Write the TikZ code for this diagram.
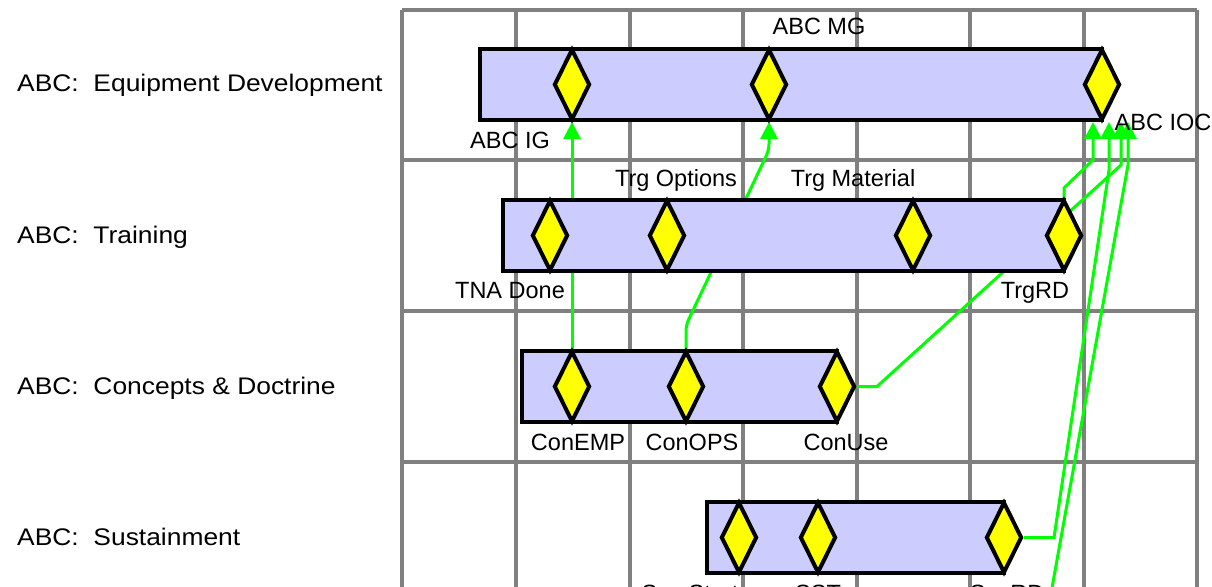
\documentclass[tikz,border=0pt]{standalone}
\usepackage{fontspec}
\setmainfont{Liberation Sans}
\newfontfamily\rowfont[FakeStretch=1.1]{Liberation Sans}
\usetikzlibrary{shapes.geometric,arrows.meta}
\definecolor{gridgray}{HTML}{808080}
\definecolor{barfill}{HTML}{CCCCFF}
\definecolor{msyellow}{HTML}{FFFF00}
\definecolor{lnkgreen}{HTML}{00FF00}
\pgfdeclarelayer{gridl}
\pgfdeclarelayer{links}
\pgfsetlayers{gridl,links,main}
\begin{document}
\begin{tikzpicture}[x=1pt,y=-1pt,
  gridline/.style={draw=gridgray,line width=3.5pt},
  bar/.style={draw=black,line width=4pt,fill=barfill,rectangle,anchor=west,
    minimum height=71pt,inner sep=0pt,outer sep=0pt},
  milestone/.style={draw=black,line width=4pt,fill=msyellow,diamond,inner sep=0pt,
    minimum width=36pt,minimum height=71pt},
  lbl/.style={font=\fontsize{23.5}{28}\selectfont,inner sep=0pt,anchor=base},
  rowlbl/.style={font=\rowfont\fontsize{24}{28}\selectfont,inner sep=0pt,anchor=base west},
  link/.style={draw=lnkgreen,line width=3pt},
  linkarrow/.style={link,-{Triangle[width=17pt,length=17pt]}}]
\useasboundingbox (0,0) rectangle (1212,586);
\clip (0,0) rectangle (1212,586);
% grid
\begin{pgfonlayer}{gridl}
\foreach \gx in {402,516,630,743,857,970,1084,1197}
  \draw[gridline] (\gx,10) -- (\gx,600);
\foreach \gy in {10,160,311,462}
  \draw[gridline] (402,\gy) -- (1197,\gy);
\end{pgfonlayer}
% row labels
\node[rowlbl] (r1) at (17,92) {ABC:~~Equipment Development};
\node[rowlbl] (r2) at (17,243) {ABC:~~Training};
\node[rowlbl] (r3) at (17,394) {ABC:~~Concepts \& Doctrine};
\node[rowlbl] (r4) at (17,545) {ABC:~~Sustainment};
% bars
\node[bar,minimum width=622pt] (b1) at (480,84.5) {};
\node[bar,minimum width=561pt] (b2) at (503,235.5) {};
\node[bar,minimum width=315pt] (b3) at (522,386.5) {};
\node[bar,minimum width=297pt] (b4) at (707,537.5) {};
% milestones
\node[milestone] (ig) at (572,84.5) {};
\node[milestone] (mg) at (769,84.5) {};
\node[milestone] (ioc) at (1102,84.5) {};
\node[milestone] (tna) at (550,235.5) {};
\node[milestone] (topt) at (667,235.5) {};
\node[milestone] (tmat) at (913,235.5) {};
\node[milestone] (trgrd) at (1064,235.5) {};
\node[milestone] (cemp) at (572,386.5) {};
\node[milestone] (cops) at (686,386.5) {};
\node[milestone] (cuse) at (837,386.5) {};
\node[milestone] (s1) at (739,537.5) {};
\node[milestone] (s2) at (818,537.5) {};
\node[milestone] (s3) at (1004,537.5) {};
% arrow targets below ABC IOC
\coordinate (iocA) at ([xshift=-9pt]ioc.south);
\coordinate (iocB) at ([xshift=7pt]ioc.south);
\coordinate (iocC) at ([xshift=19pt]ioc.south);
\coordinate (iocD) at ([xshift=26pt]ioc.south);
\coordinate (offB) at (1048,610);
% links (behind bars)
\begin{pgfonlayer}{links}
\draw[linkarrow] (cemp.north) -- (ig.south);
\draw[linkarrow,rounded corners=6pt] (cops.north) -- ++(0,-24) -- (mg.south |- 0,150) -- (mg.south);
\draw[linkarrow] (cuse.east) -- ++(20,0) -- (iocC |- 0,165) -- (iocC);
\draw[linkarrow] (trgrd.north) -- ++(0,-10) -- (iocA |- 0,160) -- (iocA);
\draw[linkarrow] (s3.east) -- ++(30,0) -- (iocB |- 0,170) -- (iocB);
\draw[linkarrow] (offB) -- (iocD |- 0,165) -- (iocD);
\end{pgfonlayer}
% labels
\node[lbl] (lMG) at (819,35) {ABC MG};
\node[lbl] (lIG) at (510,148) {ABC IG};
\node[lbl] (lIOC) at (1163,130) {ABC IOC};
\node[lbl] (lTopt) at (676,186) {Trg Options};
\node[lbl] (lTmat) at (853,186) {Trg Material};
\node[lbl] (lTna) at (510,298) {TNA Done};
\node[lbl] (lTrd) at (1035,298) {TrgRD};
\node[lbl] (lCemp) at (578,450) {ConEMP};
\node[lbl] (lCops) at (692,450) {ConOPS};
\node[lbl] (lCuse) at (846,450) {ConUse};
\node[lbl] (lS1) at (690,601) {Sus Strat};
\node[lbl] (lS2) at (818,601) {SST};
\node[lbl] (lS3) at (1007,601) {SusRD};
\end{tikzpicture}
\end{document}
